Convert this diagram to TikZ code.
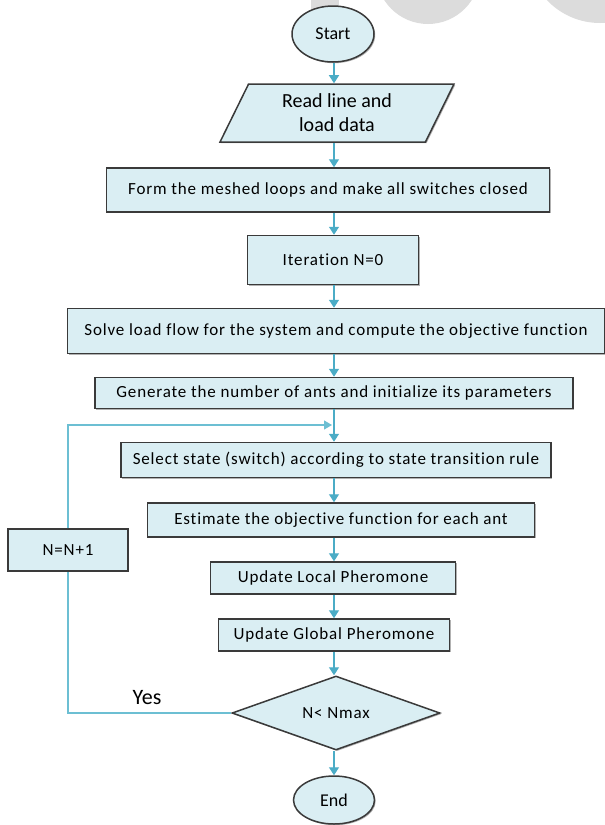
\documentclass[tikz,border=0pt]{standalone}
\usepackage{fontspec}
\setmainfont[Ligatures={NoCommon}]{Carlito}
\newfontfamily\chartfont[LetterSpace=5,Ligatures={NoCommon}]{Carlito}
\usetikzlibrary{shapes.geometric,arrows.meta,shadows}
\definecolor{boxfill}{HTML}{DAEEF3}
\definecolor{flowblue}{HTML}{4BACC6}
\definecolor{loopblue}{HTML}{6CBFD3}
\definecolor{boxline}{HTML}{3A3A3A}
\definecolor{markgray}{HTML}{DCDCDC}
\tikzset{
  boxbase/.style={draw=boxline, line width=1.5pt, fill=boxfill, inner sep=0pt,
    drop shadow={shadow xshift=1.2pt, shadow yshift=-1.2pt, fill=black!60, opacity=.5}},
  procbox/.style={boxbase, rectangle, font=\chartfont\fontsize{17}{19}\selectfont},
  termnode/.style={boxbase, ellipse, font=\fontsize{18}{20}\selectfont},
  ionode/.style={boxbase, trapezium, trapezium left angle=65, trapezium right angle=115,
    trapezium stretches=true, align=center, font=\fontsize{20}{24}\selectfont},
  decnode/.style={boxbase, diamond, shape aspect=2.8, font=\chartfont\fontsize{17}{19}\selectfont},
  flowarrow/.style={draw=flowblue, line width=1.4pt, -{Triangle[width=10pt,length=8pt]}},
  loopline/.style={draw=loopblue, line width=1.2pt}
}
\begin{document}
\begin{tikzpicture}[x=1pt,y=-1pt]
  \useasboundingbox (0,0) rectangle (605,825);
  % faint marks behind the chart
  \begin{scope}
    \clip (0,0) rectangle (605,825);
    \fill[markgray] (311,0) rectangle (339,20);
    \fill[markgray] (428,-28) circle (52);
    \fill[markgray] (600,-50) circle (73);
  \end{scope}

  \node[termnode, minimum width=82pt, minimum height=56pt] (start) at (333,34) {Start};
  \node[ionode, minimum width=234pt, minimum height=58pt] (readdata) at (337,113) {Read line and\\load data};
  \node[procbox, minimum width=443pt, minimum height=44pt] (mesh) at (328,190) {Form the meshed loops and make all switches closed};
  \node[procbox, minimum width=171pt, minimum height=49pt] (iter) at (333,260) {Iteration N=0};
  \node[procbox, minimum width=537pt, minimum height=45pt] (loadflow) at (336,331) {Solve load flow for the system and compute the objective function};
  \node[procbox, minimum width=478pt, minimum height=31pt] (ants) at (334,393) {Generate the number of ants and initialize its parameters};
  \node[procbox, minimum width=430pt, minimum height=35pt] (select) at (336,460) {Select state (switch) according to state transition rule};
  \node[procbox, minimum width=387pt, minimum height=34pt] (estim) at (341,520) {Estimate the objective function for each ant};
  \node[procbox, minimum width=120pt, minimum height=42pt] (incr) at (68,550) {N=N+1};
  \node[procbox, minimum width=245pt, minimum height=32pt] (localph) at (333,578) {Update Local Pheromone};
  \node[procbox, minimum width=231pt, minimum height=32pt] (globalph) at (334,635) {Update Global Pheromone};
  \node[decnode, minimum width=208pt, minimum height=74pt] (check) at (336,713) {N< Nmax};
  \node[termnode, minimum width=81pt, minimum height=48pt] (stop) at (334,800) {End};
  \node[font=\fontsize{22}{24}\selectfont] (yes) at (147,698) {Yes};

  \coordinate (spine) at (334,0);
  \coordinate (merge) at (332,425);

  \draw[flowarrow] (start.south -| spine) -- (readdata.north -| spine);
  \draw[flowarrow] (readdata.south -| spine) -- (mesh.north -| spine);
  \draw[flowarrow] (mesh.south -| spine) -- (iter.north -| spine);
  \draw[flowarrow] (iter.south -| spine) -- (loadflow.north -| spine);
  \draw[flowarrow] (loadflow.south -| spine) -- (ants.north -| spine);
  \draw[flowarrow] (ants.south -| spine) -- (select.north -| spine);
  \draw[flowarrow] (select.south -| spine) -- (estim.north -| spine);
  \draw[flowarrow] (estim.south -| spine) -- (localph.north -| spine);
  \draw[flowarrow] (localph.south -| spine) -- (globalph.north -| spine);
  \draw[flowarrow] (globalph.south -| spine) -- (check.north -| spine);
  \draw[flowarrow] (check.south -| spine) -- (stop.north -| spine);

  % loop back
  \draw[loopline] (check.west) -- (check.west -| incr) -- (incr.south);
  \draw[loopline, -{Triangle[width=9pt,length=8pt]}] (incr.north) |- (merge);
\end{tikzpicture}
\end{document}
